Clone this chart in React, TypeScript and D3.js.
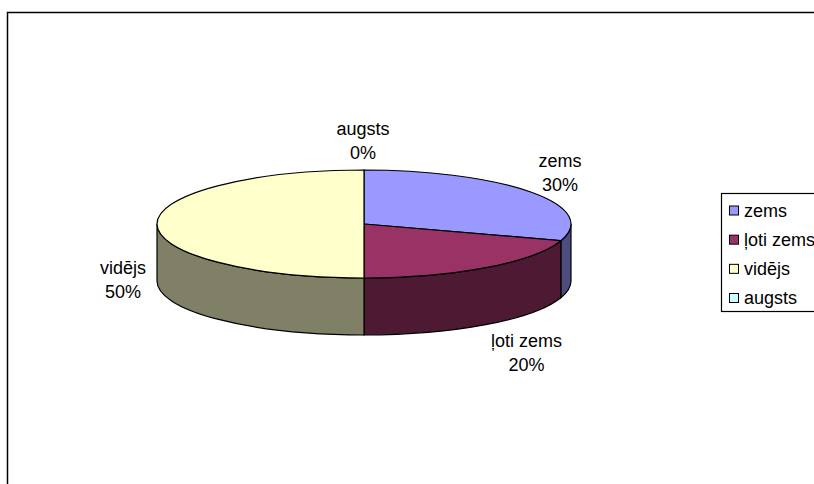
// @ts-nocheck
import * as d3 from "d3"

const labels = ["zems", "ļoti zems", "vidējs", "augsts"]
const values = [30, 20, 50, 0]
const topColors = ["#9999ff", "#993366", "#ffffcc", "#ccffff"]
const wallColors = ["#4d4d80", "#4d1933", "#808066", "#668080"]

const width = 814
const height = 484
const cx = 364
const cy = 224
const rx = 207
const ry = 54
const depth = 57

const font = "'Liberation Sans', Arial, sans-serif"

const slices = d3.pie().sort(null).startAngle(0).endAngle(2 * Math.PI)(values)

// squash a unit circle into the tilted ellipse
const px = d3.scaleLinear().domain([-1, 1]).range([cx - rx, cx + rx])
const py = d3.scaleLinear().domain([-1, 1]).range([cy - ry, cy + ry])
const ptX = (a) => px(Math.sin(a))
const ptY = (a) => py(-Math.cos(a))

// the part of the rim facing the viewer runs from 90deg to 270deg
function wallPath(d) {
  const a0 = Math.max(d.startAngle, Math.PI / 2)
  const a1 = Math.min(d.endAngle, (3 * Math.PI) / 2)
  if (a1 <= a0) return null
  const r = `${rx} ${ry} 0 0 1`
  const rBack = `${rx} ${ry} 0 0 0`
  return (
    `M${ptX(a0)},${ptY(a0)}` +
    `A${r} ${ptX(a1)},${ptY(a1)}` +
    `L${ptX(a1)},${ptY(a1) + depth}` +
    `A${rBack} ${ptX(a0)},${ptY(a0) + depth}Z`
  )
}

function topPath(d) {
  if (d.endAngle - d.startAngle <= 0) return null
  const large = d.endAngle - d.startAngle > Math.PI ? 1 : 0
  return (
    `M${cx},${cy}L${ptX(d.startAngle)},${ptY(d.startAngle)}` +
    `A${rx} ${ry} 0 ${large} 1 ${ptX(d.endAngle)},${ptY(d.endAngle)}Z`
  )
}

const dataLabels = [
  { x: 560, y: 167 },
  { x: 526.5, y: 347 },
  { x: 123, y: 274 },
  { x: 363, y: 135 },
]

const legendY = d3.scalePoint().domain(labels).range([210.5, 298])

export default function App() {
  return (
    <svg
      width={width}
      height={height}
      style={{ position: "absolute", left: 0, top: 0, background: "#fff" }}
    >
      <rect x={7.5} y={12.5} width={width + 20} height={height + 20} fill="#fff" stroke="#000" strokeWidth={1.5} />

      <g stroke="#000" strokeWidth={1.2}>
        {slices.map((d, i) => (
          <path key={i} d={wallPath(d)} fill={wallColors[i]} />
        ))}
        {slices.map((d, i) => (
          <path key={i} d={topPath(d)} fill={topColors[i]} />
        ))}
      </g>

      <g fontFamily={font} fontSize={18} fill="#000" textAnchor="middle">
        {slices.map((d, i) => (
          <text key={i} x={dataLabels[i].x} y={dataLabels[i].y}>
            <tspan x={dataLabels[i].x}>{labels[i]}</tspan>
            <tspan x={dataLabels[i].x} dy={23.5}>{`${values[i]}%`}</tspan>
          </text>
        ))}
      </g>

      <rect x={721.5} y={193.5} width={width} height={118} fill="#fff" stroke="#000" strokeWidth={1.2} />
      {labels.map((l, i) => (
        <g key={l}>
          <rect x={729.5} y={legendY(l) - 4.5} width={9} height={9} fill={topColors[i]} stroke="#000" />
          <text x={744} y={legendY(l) + 6} fontFamily={font} fontSize={18} fill="#000">
            {l}
          </text>
        </g>
      ))}
    </svg>
  )
}
